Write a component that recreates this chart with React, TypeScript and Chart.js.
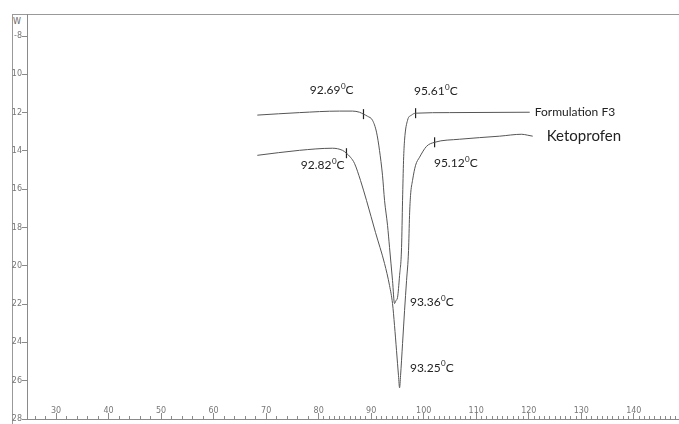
import { useEffect, useRef } from "react";
import { Chart, registerables } from "chart.js";

Chart.register(...registerables);

// Formulation F3 trace (temperature °C, heat flow W)
const f3X = [68.32, 76.33, 83.96, 86.43, 87.77, 88.53, 89.3, 90.25, 91.01, 91.58, 92.15, 92.54, 93.11, 93.49, 94.06, 94.44, 94.73, 95.01, 95.4, 95.78, 95.97, 96.16, 96.35, 96.92, 97.68, 98.45, 104.93, 120.18];
const f3Y = [-12.13, -12.0, -11.92, -11.92, -11.98, -12.08, -12.19, -12.4, -13.02, -13.97, -15.27, -16.58, -17.89, -19.04, -20.77, -21.97, -21.81, -21.66, -20.51, -19.04, -16.58, -14.49, -13.44, -12.4, -12.13, -12.03, -12.0, -11.98];

// Ketoprofen trace
const ketoX = [68.32, 76.33, 82.62, 84.53, 85.29, 86.05, 86.82, 87.96, 89.1, 90.82, 92.54, 93.49, 94.06, 94.44, 94.82, 95.2, 95.4, 95.59, 95.97, 96.35, 96.73, 97.11, 97.3, 97.49, 97.87, 98.45, 99.21, 100.54, 102.07, 106.83, 114.46, 118.66, 119.8, 120.75];
const ketoY = [-14.23, -13.97, -13.86, -13.97, -14.12, -14.33, -14.65, -15.54, -16.58, -18.26, -19.88, -21.03, -21.97, -23.12, -24.43, -25.74, -26.37, -25.74, -24.06, -22.34, -20.77, -19.2, -17.37, -16.32, -15.54, -14.75, -14.33, -13.76, -13.55, -13.39, -13.23, -13.13, -13.18, -13.23];

// Onset / endset markers
const f3MarkX = [88.53, 98.45];
const f3MarkY = [-12.08, -12.03];
const ketoMarkX = [85.29, 102.07];
const ketoMarkY = [-14.12, -13.55];

// Temperature annotations
const tempLabels = ["92.69", "95.61", "92.82", "95.12", "93.36", "93.25"];
const tempLabelX = [82.43, 102.26, 80.71, 106.07, 101.5, 101.5];
const tempLabelY = [-10.83, -10.88, -14.75, -14.65, -21.92, -25.32];

// Series names
const seriesNames = ["Formulation F3", "Ketoprofen"];
const seriesNameX = [121.13, 123.42];
const seriesNameY = [-11.98, -13.23];
const seriesNameSize = [12, 15];

// Axis ticks
const yTickValues = [-8, -10, -12, -14, -16, -18, -20, -22, -24, -26, -28];
const yTickLabels = ["-8", "10", "12", "14", "16", "18", "20", "22", "24", "26", "28"];
const xTickValues = [30, 40, 50, 60, 70, 80, 90, 100, 110, 120, 130, 140];
const xMin = 24.47;
const xMax = 148.6;
const yMin = -28;
const yMax = -6.85;

const annotPlugin = {
  id: "annot",
  afterDatasetsDraw(chart: any) {
    const { ctx } = chart;
    const xs = chart.scales.x;
    const ys = chart.scales.y;
    ctx.save();
    ctx.fillStyle = "#222";
    ctx.textBaseline = "middle";
    ctx.textAlign = "left";
    const big = "12px Lato";
    const small = "8px Lato";
    tempLabels.forEach((t, i) => {
      const px = xs.getPixelForValue(tempLabelX[i]);
      const py = ys.getPixelForValue(tempLabelY[i]);
      ctx.font = big;
      const w1 = ctx.measureText(t).width;
      const w3 = ctx.measureText("C").width;
      ctx.font = small;
      const w2 = ctx.measureText("0").width;
      const x0 = px - (w1 + w2 + w3) / 2;
      ctx.font = big;
      ctx.fillText(t, x0, py);
      ctx.font = small;
      ctx.fillText("0", x0 + w1 + 0.5, py - 4);
      ctx.font = big;
      ctx.fillText("C", x0 + w1 + w2 + 0.5, py);
    });
    seriesNames.forEach((t, i) => {
      ctx.font = seriesNameSize[i] + "px Lato";
      ctx.fillText(t, xs.getPixelForValue(seriesNameX[i]), ys.getPixelForValue(seriesNameY[i]));
    });
    ctx.restore();
  },
};

const tickFont = { family: "DejaVu Sans", size: 8 };
const axisGray = "#8a8a8a";

const noPad = (axis: any) => {
  axis.paddingLeft = 0;
  axis.paddingRight = 0;
  axis.paddingTop = 0;
  axis.paddingBottom = 0;
};

export default function App() {
  const ref = useRef<HTMLCanvasElement>(null);
  useEffect(() => {
    if (!ref.current) return;
    const lineStyle = {
      showLine: true,
      borderColor: "#555",
      borderWidth: 1,
      pointRadius: 0,
      cubicInterpolationMode: "monotone" as const,
      xAxisID: "x",
      yAxisID: "y",
    };
    const markStyle = {
      showLine: false,
      pointStyle: "line" as const,
      rotation: 90,
      pointRadius: 5,
      borderColor: "#222",
      borderWidth: 1.2,
      xAxisID: "x",
      yAxisID: "y",
    };
    const chart = new Chart(ref.current, {
      type: "scatter",
      data: {
        datasets: [
          { ...lineStyle, label: seriesNames[0], data: f3X.map((x, i) => ({ x, y: f3Y[i] })) },
          { ...lineStyle, label: seriesNames[1], data: ketoX.map((x, i) => ({ x, y: ketoY[i] })) },
          { ...markStyle, label: "m1", data: f3MarkX.map((x, i) => ({ x, y: f3MarkY[i] })) },
          { ...markStyle, label: "m2", data: ketoMarkX.map((x, i) => ({ x, y: ketoMarkY[i] })) },
        ],
      },
      options: {
        animation: false,
        responsive: false,
        layout: { autoPadding: false, padding: { left: 0, right: 0, top: 14, bottom: 5 } },
        plugins: { legend: { display: false }, tooltip: { enabled: false } },
        scales: {
          x: {
            type: "linear",
            position: "bottom",
            min: xMin,
            max: xMax,
            afterBuildTicks: (axis: any) => {
              axis.ticks = xTickValues.map((v) => ({ value: v }));
            },
            afterFit: (axis: any) => {
              axis.height = 0;
              noPad(axis);
            },
            ticks: { font: tickFont, color: "#777", padding: 3, mirror: true, maxRotation: 0, autoSkip: false },
            grid: { drawOnChartArea: false, drawTicks: true, tickLength: -6, tickColor: axisGray },
            border: { color: axisGray, width: 1 },
          },
          x2: {
            type: "linear",
            position: "bottom",
            min: xMin,
            max: xMax,
            afterBuildTicks: (axis: any) => {
              const t: any[] = [];
              for (let v = 26; v <= 148; v += v >= 80 ? 1 : 2) t.push({ value: v });
              axis.ticks = t;
            },
            afterFit: (axis: any) => {
              axis.height = 0;
              noPad(axis);
            },
            ticks: { display: false },
            grid: { drawOnChartArea: false, drawTicks: true, tickLength: -3, tickColor: axisGray },
            border: { color: axisGray, width: 1 },
          },
          y: {
            type: "linear",
            position: "left",
            min: yMin,
            max: yMax,
            afterBuildTicks: (axis: any) => {
              axis.ticks = yTickValues.map((v) => ({ value: v }));
            },
            afterFit: (axis: any) => {
              axis.width = 27;
              noPad(axis);
            },
            ticks: {
              font: tickFont,
              color: "#777",
              padding: 0,
              autoSkip: false,
              callback: (v: any) => {
                const i = yTickValues.indexOf(Number(v));
                return i >= 0 ? yTickLabels[i] : "";
              },
            },
            grid: { drawOnChartArea: false, drawTicks: true, tickLength: 5, tickColor: axisGray },
            border: { color: axisGray, width: 1 },
          },
          y2: {
            type: "linear",
            position: "left",
            min: yMin,
            max: yMax,
            afterBuildTicks: (axis: any) => {
              const t: any[] = [];
              for (let v = -27; v <= -7; v += 2) t.push({ value: v });
              axis.ticks = t;
            },
            afterFit: (axis: any) => {
              axis.width = 0;
              noPad(axis);
            },
            ticks: { display: false },
            grid: { drawOnChartArea: false, drawTicks: true, tickLength: 3, tickColor: axisGray },
            border: { display: false },
          },
        },
      },
      plugins: [annotPlugin],
    });
    return () => chart.destroy();
  }, []);

  return (
    <div style={{ position: "fixed", left: 0, top: 0, width: 679, height: 424, background: "#fff", overflow: "hidden" }}>
      <div
        style={{
          position: "absolute",
          left: 12,
          top: 14,
          width: 700,
          height: 420,
          borderLeft: "1px solid #999",
          borderTop: "1px solid #999",
        }}
      />
      <span
        style={{
          position: "absolute",
          left: 13,
          top: 17,
          font: "8px 'DejaVu Sans'",
          color: "#666",
        }}
      >
        W
      </span>
      <canvas ref={ref} width={679} height={424} style={{ position: "absolute", left: 0, top: 0 }} />
    </div>
  );
}
